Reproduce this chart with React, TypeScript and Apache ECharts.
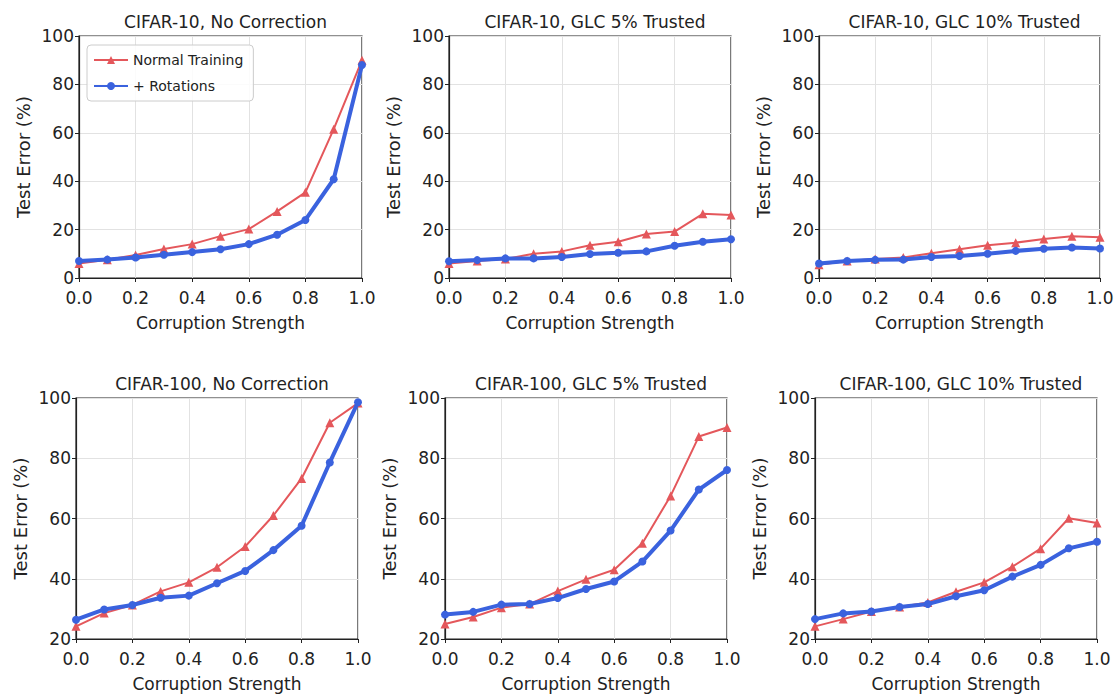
import React, { useEffect, useRef } from "react";
import * as echarts from "echarts";

const corruption = [0, 0.1, 0.2, 0.3, 0.4, 0.5, 0.6, 0.7, 0.8, 0.9, 1.0];

const panelTitles = [
  "CIFAR-10, No Correction",
  "CIFAR-10, GLC 5% Trusted",
  "CIFAR-10, GLC 10% Trusted",
  "CIFAR-100, No Correction",
  "CIFAR-100, GLC 5% Trusted",
  "CIFAR-100, GLC 10% Trusted",
];

// Normal Training
const c10NoCorrNormal = [6, 7.5, 9.5, 12, 14, 17.3, 20.2, 27.5, 35.4, 61.5, 90];
const c10Glc5Normal = [6, 7, 7.9, 10, 11, 13.5, 15, 18.2, 19.2, 26.5, 26];
const c10Glc10Normal = [5.5, 7, 7.9, 8.5, 10.2, 11.9, 13.5, 14.6, 16.1, 17.3, 16.8];
const c100NoCorrNormal = [24.2, 28.6, 31.3, 35.8, 38.8, 43.8, 50.7, 61, 73.3, 91.8, 98.3];
const c100Glc5Normal = [25, 27.3, 30.4, 31.6, 35.9, 39.8, 43, 51.8, 67.5, 87.2, 90.2];
const c100Glc10Normal = [24.2, 26.6, 29.1, 30.6, 32.1, 35.7, 38.8, 44, 50, 60.1, 58.5];

// + Rotations
const c10NoCorrRot = [7, 7.6, 8.5, 9.6, 10.7, 11.9, 14, 17.9, 24, 40.8, 88];
const c10Glc5Rot = [6.9, 7.4, 8.1, 8.1, 8.7, 9.9, 10.4, 11, 13.3, 15, 16];
const c10Glc10Rot = [6, 7, 7.5, 7.6, 8.7, 9.1, 10, 11.2, 12.1, 12.6, 12.2];
const c100NoCorrRot = [26.4, 29.8, 31.3, 33.7, 34.4, 38.5, 42.6, 49.5, 57.6, 78.6, 98.6];
const c100Glc5Rot = [28.1, 29, 31.4, 31.6, 33.6, 36.6, 39.1, 45.7, 56, 69.6, 76.1];
const c100Glc10Rot = [26.6, 28.5, 29.1, 30.6, 31.6, 34.2, 36.2, 40.7, 44.6, 50.1, 52.3];

const normalSets = [c10NoCorrNormal, c10Glc5Normal, c10Glc10Normal, c100NoCorrNormal, c100Glc5Normal, c100Glc10Normal];
const rotSets = [c10NoCorrRot, c10Glc5Rot, c10Glc10Rot, c100NoCorrRot, c100Glc5Rot, c100Glc10Rot];
const yMins = [0, 0, 0, 20, 20, 20];
const yMax = 100;

const seriesNames = ["Normal Training", "+ Rotations"];
const xAxisName = "Corruption Strength";
const yAxisName = "Test Error (%)";

const RED = "#e4575b";
const BLUE = "#3a62de";
const FONT = "DejaVu Sans";

const grids = [
  { left: 79, top: 36, width: 283, height: 242 },
  { left: 449, top: 36, width: 282, height: 242 },
  { left: 819, top: 36, width: 281, height: 242 },
  { left: 76, top: 398, width: 282, height: 241 },
  { left: 445, top: 398, width: 282, height: 241 },
  { left: 815, top: 398, width: 282, height: 241 },
];

export default function App() {
  const ref = useRef<HTMLDivElement>(null);
  useEffect(() => {
    if (!ref.current) return;
    const chart = echarts.init(ref.current, null, { renderer: "svg" });
    const option: any = {
      animation: false,
      backgroundColor: "#ffffff",
      textStyle: { fontFamily: FONT },
      title: grids.map((g, i) => ({
        text: panelTitles[i],
        left: g.left + g.width / 2,
        top: g.top - 28,
        textAlign: "center",
        textStyle: { fontFamily: FONT, fontSize: 17, fontWeight: "normal", color: "#222" },
      })),
      legend: {
        data: seriesNames,
        orient: "vertical",
        left: 87,
        top: 45,
        itemWidth: 34,
        itemHeight: 10,
        itemGap: 12,
        padding: [8, 10, 8, 6],
        borderColor: "#cccccc",
        borderWidth: 1,
        borderRadius: 4,
        backgroundColor: "rgba(255,255,255,0.85)",
        textStyle: { fontFamily: FONT, fontSize: 14, color: "#222" },
      },
      grid: grids.map((g) => ({
        left: g.left,
        top: g.top,
        width: g.width,
        height: g.height,
        show: true,
        borderColor: "#222",
        borderWidth: 1.2,
        backgroundColor: "transparent",
      })),
      xAxis: grids.map((_, i) => ({
        type: "value",
        gridIndex: i,
        min: 0,
        max: 1,
        interval: 0.2,
        name: xAxisName,
        nameLocation: "middle",
        nameGap: 36,
        nameTextStyle: { fontFamily: FONT, fontSize: 17, color: "#222" },
        axisLine: { show: true, onZero: false, lineStyle: { color: "#222", width: 1.2 } },
        axisTick: { show: true, inside: false, length: 4, lineStyle: { color: "#222" } },
        axisLabel: {
          margin: 11,
          fontFamily: FONT,
          fontSize: 17,
          color: "#222",
          formatter: (v: number) => v.toFixed(1),
        },
        splitLine: { show: true, lineStyle: { color: "#e2e2e2", width: 1 } },
      })),
      yAxis: grids.map((_, i) => ({
        type: "value",
        gridIndex: i,
        min: yMins[i],
        max: yMax,
        interval: 20,
        name: yAxisName,
        nameLocation: "middle",
        nameGap: 47,
        nameTextStyle: { fontFamily: FONT, fontSize: 18, color: "#222" },
        axisLine: { show: true, lineStyle: { color: "#222", width: 1.2 } },
        axisTick: { show: true, inside: false, length: 4, lineStyle: { color: "#222" } },
        axisLabel: { margin: 5, fontFamily: FONT, fontSize: 17, color: "#222" },
        splitLine: { show: true, lineStyle: { color: "#e2e2e2", width: 1 } },
      })),
      series: grids.flatMap((_, i) => [
        {
          name: seriesNames[0],
          type: "line",
          xAxisIndex: i,
          yAxisIndex: i,
          data: corruption.map((x, k) => [x, normalSets[i][k]]),
          symbol: "triangle",
          symbolSize: 9,
          showSymbol: true,
          lineStyle: { color: RED, width: 2 },
          itemStyle: { color: RED },
          z: 2,
        },
        {
          name: seriesNames[1],
          type: "line",
          xAxisIndex: i,
          yAxisIndex: i,
          data: corruption.map((x, k) => [x, rotSets[i][k]]),
          symbol: "circle",
          symbolSize: 8,
          showSymbol: true,
          lineStyle: { color: BLUE, width: 4 },
          itemStyle: { color: BLUE },
          z: 3,
        },
      ]),
    };
    chart.setOption(option);
    return () => chart.dispose();
  }, []);
  return (
    <div
      ref={ref}
      style={{ position: "absolute", left: 0, top: 0, width: 1119, height: 696 }}
    />
  );
}
